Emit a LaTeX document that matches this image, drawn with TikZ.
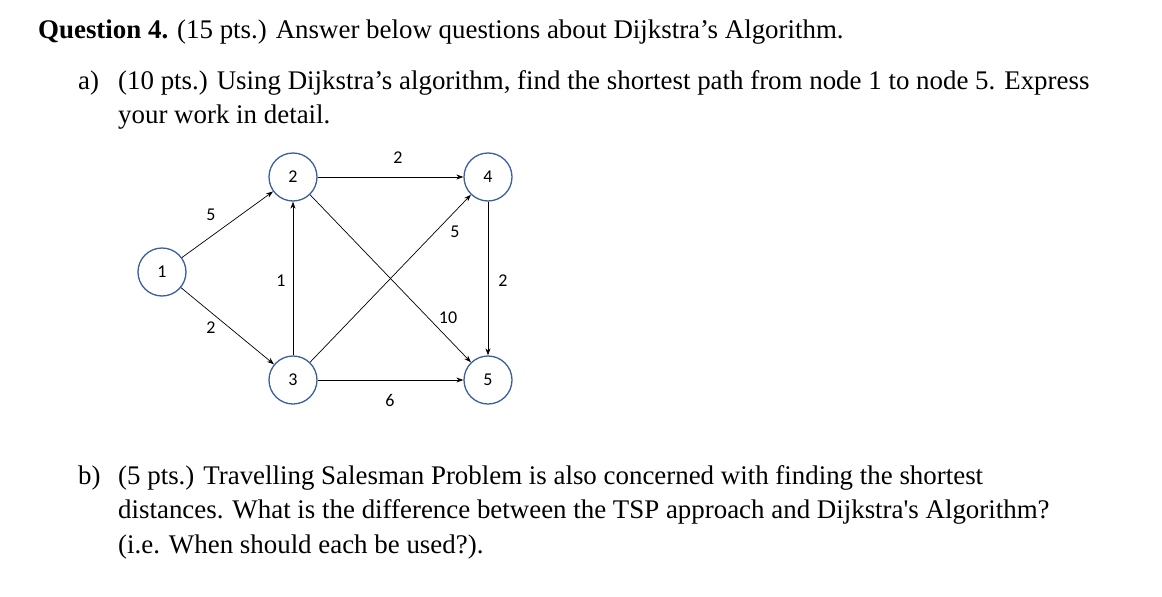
\documentclass[tikz,border=0pt]{standalone}
\usepackage{fontspec}
\setmainfont{Liberation Serif}
\newfontfamily\calfont{Carlito}
\usetikzlibrary{arrows.meta}
\definecolor{cblue}{HTML}{3A5F9E}
\begin{document}
\begin{tikzpicture}[x=1pt,y=-1pt,
  txt/.style={anchor=base west,inner sep=0pt,font=\fontsize{26.9}{30}\selectfont},
  vtx/.style={circle,draw=cblue,line width=1.3pt,fill=white,minimum size=48pt,inner sep=0pt,font=\calfont\fontsize{18}{20}\selectfont},
  edge/.style={-{Stealth[length=7pt,width=5pt]},line width=0.7pt},
  wt/.style={font=\calfont\fontsize{18}{20}\selectfont,inner sep=1pt}]
\useasboundingbox (0,0) rectangle (1162,597);
\node[txt] (t1) at (38,38) {\textbf{Question 4.} (15 pts.) Answer below questions about Dijkstra’s Algorithm.};
\node[txt] (a) at (78,89) {a)};
\node[txt] (a1) at (118,89) {(10 pts.) Using Dijkstra’s algorithm, find the shortest path from node 1 to node 5. Express};
\node[txt] (a2) at (118,123) {your work in detail.};
\node[txt] (b) at (78,484) {b)};
\node[txt] (b1) at (118,484) {(5 pts.) Travelling Salesman Problem is also concerned with finding the shortest};
\node[txt] (b2) at (118,518) {distances. What is the difference between the TSP approach and Dijkstra\textquotesingle s Algorithm?};
\node[txt] (b3) at (118,553) {(i.e. When should each be used?).};
\node[vtx] (n1) at (162,272) {1};
\node[vtx] (n2) at (293,177) {2};
\node[vtx] (n4) at (488,177) {4};
\node[vtx] (n3) at (293,380) {3};
\node[vtx] (n5) at (488,380) {5};
\draw[edge] (n1) -- (n2);
\draw[edge] (n1) -- (n3);
\draw[edge] (n2) -- (n4);
\draw[edge] (n3) -- (n2);
\draw[edge] (n3) -- (n4);
\draw[edge] (n2) -- (n5);
\draw[edge] (n4) -- (n5);
\draw[edge] (n3) -- (n5);
\node[wt] (w12) at (211,215) {5};
\node[wt] (w13) at (211,328) {2};
\node[wt] (w24) at (398,158) {2};
\node[wt] (w32) at (281,281) {1};
\node[wt] (w34) at (455,232) {5};
\node[wt] (w25) at (448,318) {10};
\node[wt] (w45) at (503,281) {2};
\node[wt] (w35) at (390,400) {6};
\end{tikzpicture}
\end{document}
